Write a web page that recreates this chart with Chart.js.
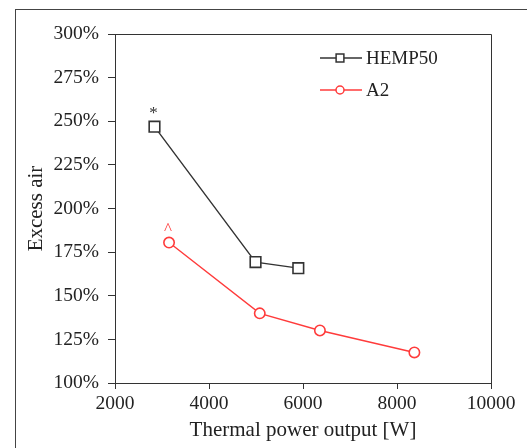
<!DOCTYPE html>
<html lang="en">
<head>
    <meta charset="UTF-8">
    <title>Excess air vs thermal power output</title>
    <script src="https://cdn.jsdelivr.net/npm/chart.js"></script>
    <style>
        body {
            margin: 0;
            background: #ffffff;
        }
        .wrap {
            position: relative;
            width: 527px;
            height: 448px;
            overflow: hidden;
        }
        .frame {
            position: absolute;
            left: 15px;
            top: 9px;
            width: 600px;
            height: 500px;
            border-left: 1px solid #444;
            border-top: 1px solid #444;
        }
        canvas {
            position: absolute;
            left: 0;
            top: 0;
        }
    </style>
</head>
<body>
<div class="wrap">
    <div class="frame"></div>
    <canvas id="airChart" width="527" height="448"></canvas>
</div>

<script>
    // data
    const hempPower = [2840, 4990, 5900];
    const hempAir = [246.9, 169.3, 165.8];
    const hempNotes = ['*', '', ''];

    const a2Power = [3150, 5080, 6360, 8370];
    const a2Air = [180.5, 139.9, 130.1, 117.5];
    const a2Notes = ['^', '', '', ''];

    const xTicks = [2000, 4000, 6000, 8000, 10000];
    const yTicks = [100, 125, 150, 175, 200, 225, 250, 275, 300];

    const serif = 'Liberation Serif';
    const ink = '#222';

    function toPoints(xs, ys) {
        return xs.map((x, i) => ({ x: x, y: ys[i] }));
    }

    // top and right edges of the plot box
    const boxPlugin = {
        id: 'box',
        beforeDatasetsDraw(chart) {
            const { ctx, chartArea: a } = chart;
            ctx.save();
            ctx.strokeStyle = '#333';
            ctx.lineWidth = 1;
            ctx.beginPath();
            ctx.moveTo(a.left, a.top + 0.5);
            ctx.lineTo(a.right + 0.5, a.top + 0.5);
            ctx.lineTo(a.right + 0.5, a.bottom);
            ctx.stroke();
            ctx.restore();
        }
    };

    // little marks above some points (* and ^)
    const notesPlugin = {
        id: 'notes',
        afterDatasetsDraw(chart) {
            const { ctx } = chart;
            ctx.save();
            ctx.textAlign = 'center';
            ctx.textBaseline = 'middle';
            chart.data.datasets.forEach((ds, di) => {
                const meta = chart.getDatasetMeta(di);
                ds.notes.forEach((txt, i) => {
                    if (!txt) return;
                    const pt = meta.data[i];
                    ctx.fillStyle = ds.borderColor;
                    ctx.font = '17px "' + serif + '"';
                    ctx.fillText(txt, pt.x - 1, pt.y - 13);
                });
            });
            ctx.restore();
        }
    };

    // legend with a line through the marker
    const legendPlugin = {
        id: 'lineLegend',
        afterDraw(chart) {
            const { ctx } = chart;
            ctx.save();
            chart.data.datasets.forEach((ds, i) => {
                const y = 58 + i * 32;
                ctx.strokeStyle = ds.borderColor;
                ctx.lineWidth = 1.3;
                ctx.beginPath();
                ctx.moveTo(320, y);
                ctx.lineTo(362, y);
                ctx.stroke();
                ctx.fillStyle = '#fff';
                ctx.lineWidth = 1.5;
                Chart.helpers.drawPoint(ctx, {
                    pointStyle: ds.pointStyle,
                    radius: ds.pointStyle === 'rect' ? 5.5 : 4,
                    borderWidth: 1.5,
                    rotation: 0
                }, 340, y);
                ctx.fillStyle = ink;
                ctx.font = '19px "' + serif + '"';
                ctx.textBaseline = 'middle';
                ctx.fillText(ds.label, 366, y + 1);
            });
            ctx.restore();
        }
    };

    new Chart(document.getElementById('airChart'), {
        type: 'line',
        data: {
            datasets: [{
                label: 'HEMP50',
                data: toPoints(hempPower, hempAir),
                notes: hempNotes,
                borderColor: '#333',
                borderWidth: 1.4,
                pointStyle: 'rect',
                pointRadius: 7.5,
                pointBorderWidth: 1.6,
                pointBackgroundColor: '#fff',
                pointBorderColor: '#333'
            }, {
                label: 'A2',
                data: toPoints(a2Power, a2Air),
                notes: a2Notes,
                borderColor: '#ff3b3b',
                borderWidth: 1.4,
                pointStyle: 'circle',
                pointRadius: 5.2,
                pointBorderWidth: 1.6,
                pointBackgroundColor: '#fff',
                pointBorderColor: '#ff3b3b'
            }]
        },
        options: {
            responsive: false,
            animation: false,
            layout: { padding: { left: 0, top: 34, right: 36, bottom: 0 } },
            plugins: {
                legend: { display: false },
                tooltip: { enabled: false }
            },
            scales: {
                x: {
                    type: 'linear',
                    min: 2000,
                    max: 10000,
                    afterBuildTicks: s => { s.ticks = xTicks.map(v => ({ value: v })); },
                    afterFit: s => { s.height = 65; },
                    grid: { display: true, drawOnChartArea: false, tickLength: 6, color: '#333' },
                    border: { display: true, color: '#333', width: 1 },
                    ticks: {
                        color: ink,
                        padding: 3,
                        font: { family: serif, size: 19.5 },
                        callback: v => String(v)
                    },
                    title: {
                        display: true,
                        text: 'Thermal power output [W]',
                        color: ink,
                        font: { family: serif, size: 21 },
                        padding: { top: 0, bottom: 5 }
                    }
                },
                y: {
                    min: 100,
                    max: 300,
                    afterBuildTicks: s => { s.ticks = yTicks.map(v => ({ value: v })); },
                    afterFit: s => { s.width = 115; },
                    grid: { display: true, drawOnChartArea: false, tickLength: 7, color: '#333' },
                    border: { display: true, color: '#333', width: 1 },
                    ticks: {
                        color: ink,
                        padding: 9,
                        font: { family: serif, size: 19.5 },
                        callback: v => v + '%'
                    },
                    title: {
                        display: true,
                        text: 'Excess air',
                        color: ink,
                        font: { family: serif, size: 21 },
                        padding: { top: 24, bottom: 0 }
                    }
                }
            }
        },
        plugins: [boxPlugin, notesPlugin, legendPlugin]
    });
</script>
</body>
</html>
